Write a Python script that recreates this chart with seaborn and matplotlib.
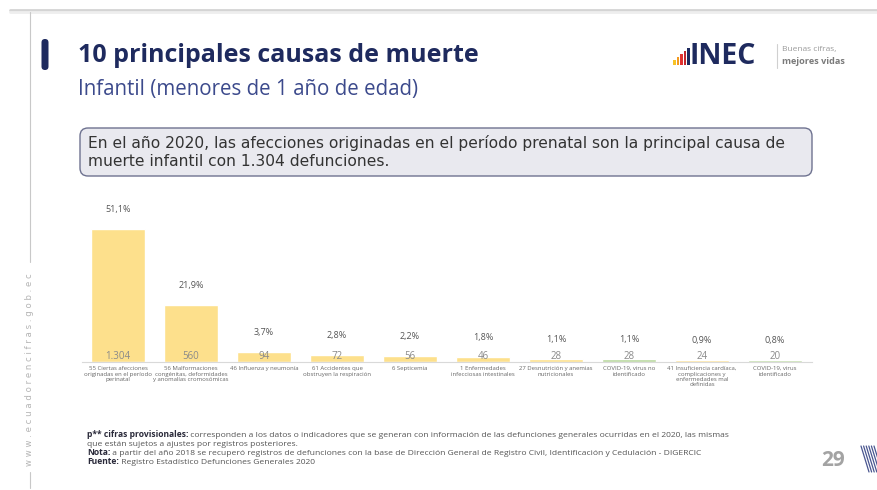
import matplotlib
matplotlib.use('Agg')
import matplotlib.pyplot as plt
import seaborn as sns
import pandas as pd
from matplotlib.patches import FancyBboxPatch, Rectangle

# Data
causas = [
    "55 Ciertas afecciones\noriginadas en el período\nperinatal",
    "56 Malformaciones\ncongénitas, deformidades\ny anomalías cromosómicas",
    "46 Influenza y neumonía",
    "61 Accidentes que\nobstruyen la respiración",
    "6 Septicemia",
    "1 Enfermedades\ninfecciosas intestinales",
    "27 Desnutrición y anemias\nnutricionales",
    "COVID-19, virus no\nidentificado",
    "41 Insuficiencia cardíaca,\ncomplicaciones y\nenfermedades mal\ndefinidas",
    "COVID-19, virus\nidentificado",
]
defunciones = [1304, 560, 94, 72, 56, 46, 28, 28, 24, 20]
etiquetas_conteo = ["1.304", "560", "94", "72", "56", "46", "28", "28", "24", "20"]
porcentajes = ["51,1%", "21,9%", "3,7%", "2,8%", "2,2%", "1,8%", "1,1%", "1,1%", "0,9%", "0,8%"]
es_covid = [False, False, False, False, False, False, False, True, False, True]

sns.set_style("white")
plt.rcParams['font.family'] = ['Open Sans', 'DejaVu Sans']

W, H = 877, 490
fig = plt.figure(figsize=(W / 100, H / 100), dpi=100)

# Background layer in pixel coordinates for the slide decorations
bg = fig.add_axes([0, 0, 1, 1], zorder=0)
bg.set_xlim(0, W)
bg.set_ylim(H, 0)
bg.axis('off')

navy = "#1E2A5E"

# top shadow and side lines
bg.plot([10, W], [10, 10], color="#D4D4D4", lw=2)
bg.plot([10, W], [12, 12], color="#EEEEEE", lw=2)
bg.plot([30, 30], [12, 262], color="#C8C8C8", lw=0.8)
bg.plot([30, 30], [472, 488], color="#C8C8C8", lw=0.8)
bg.text(30, 370, "w w w . e c u a d o r e n c i f r a s . g o b . e c", rotation=90,
        ha='center', va='center', fontsize=6.1, color="#B4B4B4",
        family=['DejaVu Sans'])

# left pill next to the title
bg.add_patch(FancyBboxPatch((41.5, 39), 7, 31, boxstyle="round,pad=0,rounding_size=3.5",
                            facecolor=navy, edgecolor='none'))

# titles
bg.text(78, 55, "10 principales causas de muerte", fontsize=18, fontweight='bold',
        color=navy, va='center', ha='left')
bg.text(78, 89, "Infantil (menores de 1 año de edad)", fontsize=14.8,
        color="#3C4A8C", va='center', ha='left')

# logo
logo_cols = ["#F7C325", "#F39A1E", "#E2312E", "#C3262E", navy]
logo_h = [5, 8, 11, 14, 17]
for i, (c, h) in enumerate(zip(logo_cols, logo_h)):
    bg.add_patch(Rectangle((673 + i * 3.6, 65 - h), 2.6, h, facecolor=c, edgecolor='none'))
bg.text(690, 56, "INEC", fontsize=20.5, fontweight='bold', color=navy, va='center', ha='left')
bg.plot([777, 777], [44, 68], color="#D0D0D0", lw=0.8)
bg.text(782, 50, "Buenas cifras,", fontsize=6, color="#9A9A9A", va='center', ha='left')
bg.text(782, 61, "mejores vidas", fontsize=6.6, fontweight='bold', color="#7A7A7A",
        va='center', ha='left')

# highlight box
bg.add_patch(FancyBboxPatch((80, 128), 732, 48, boxstyle="round,pad=0,rounding_size=8",
                            facecolor="#E9E9EF", edgecolor="#6E7290", lw=1))
bg.text(88, 143, "En el año 2020, las afecciones originadas en el período prenatal son la principal causa de",
        fontsize=11.2, color="#333333", va='center', ha='left', family=['DejaVu Sans'])
bg.text(88, 161, "muerte infantil con 1.304 defunciones.",
        fontsize=11.2, color="#333333", va='center', ha='left', family=['DejaVu Sans'])

# footnotes with bold lead-ins
notas = [
    ("p** cifras provisionales:", " corresponden a los datos o indicadores que se generan con información de las defunciones generales ocurridas en el 2020, las mismas"),
    ("", "que están sujetos a ajustes por registros posteriores."),
    ("Nota:", " a partir del año 2018 se recuperó registros de defunciones con la base de Dirección General de Registro Civil, Identificación y Cedulación - DIGERCIC"),
    ("Fuente:", " Registro Estadístico Defunciones Generales 2020"),
]
fs_nota = 6.1
for k, (neg, resto) in enumerate(notas):
    y = 437 + k * 9
    if neg:
        t = bg.text(87, y, neg, fontsize=fs_nota, fontweight='bold',
                    color="#2A2A3A", va='baseline', ha='left')
        bg.annotate(resto, xy=(1, 0), xycoords=t, fontsize=fs_nota, color="#555555",
                    va='bottom', ha='left')
    else:
        bg.text(87, y, resto, fontsize=fs_nota, color="#555555", va='baseline', ha='left')

# page number and hatch
bg.text(833, 460, "29", fontsize=15, fontweight='bold', color="#A3A3A3", va='center', ha='center')
for j in range(6):
    x0 = 861 + j * 2.6
    bg.plot([x0, x0 + 8], [446, 472], color="#4A5690", lw=0.9)
bg.set_xlim(0, W)
bg.set_ylim(H, 0)

# Bar chart
df = pd.DataFrame({"causa": causas, "defunciones": defunciones})
colores = ["#B9D89E" if c else "#FDE08C" for c in es_covid]

ax = fig.add_axes([81.5 / W, (H - 362) / H, 730 / W, 162 / H], zorder=1)
ax.set_facecolor('none')
sns.barplot(data=df, x="causa", y="defunciones", hue="causa", palette=colores,
            legend=False, width=0.74, ax=ax, saturation=1)
ax.set_xlim(-0.5, 9.5)
ax.set_ylim(0, 1590)

for i, (v, cnt, pct) in enumerate(zip(defunciones, etiquetas_conteo, porcentajes)):
    ax.annotate(pct, xy=(i, v), xytext=(0, 14), textcoords='offset points',
                ha='center', va='center', fontsize=6.5, color="#555555")
    ax.annotate(cnt, xy=(i, 0), xytext=(0, 4), textcoords='offset points',
                ha='center', va='center', fontsize=7, color="#8A8A8A")

ax.set_xlabel("")
ax.set_ylabel("")
ax.set_yticks([])
ax.tick_params(axis='x', length=0, pad=3)
ax.set_xticks(range(len(causas)))
ax.set_xticklabels(causas, fontsize=4.3, color="#666666", linespacing=1.1)
for s in ["top", "right", "left"]:
    ax.spines[s].set_visible(False)
ax.spines["bottom"].set_color("#D9D9D9")
ax.spines["bottom"].set_linewidth(0.8)

fig.savefig("out.png", dpi=100)
